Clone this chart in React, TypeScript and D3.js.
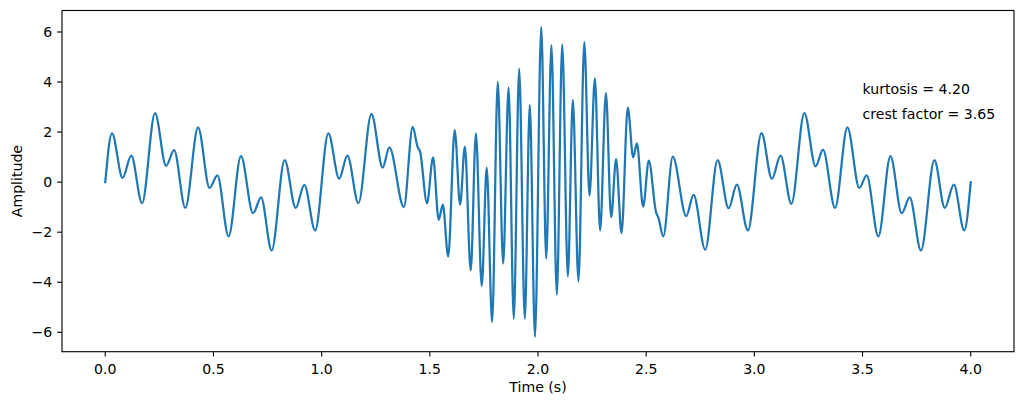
import React from "react";
import * as d3 from "d3";

// Extrema / shape points (time in s, amplitude)
const times: number[] = [
  0, 0.031, 0.080, 0.120, 0.170, 0.230, 0.281, 0.318, 0.370, 0.429, 0.482, 0.518, 0.570, 0.627,
  0.683, 0.720, 0.769, 0.829, 0.880, 0.920, 0.970, 1.031, 1.081, 1.119, 1.170, 1.230, 1.282, 1.313,
  1.380, 1.421, 1.443, 1.455, 1.487, 1.515, 1.541, 1.560, 1.585, 1.615, 1.640, 1.662, 1.689, 1.713,
  1.740, 1.763, 1.788, 1.814, 1.839, 1.864, 1.888, 1.913, 1.939, 1.962, 1.986, 2.015, 2.038, 2.062,
  2.087, 2.112, 2.138, 2.161, 2.187, 2.214, 2.238, 2.263, 2.287, 2.314, 2.338, 2.361, 2.386, 2.415,
  2.440, 2.457, 2.486, 2.512, 2.545, 2.557, 2.579, 2.623, 2.685, 2.719, 2.773, 2.830, 2.881, 2.919,
  2.970, 3.033, 3.081, 3.121, 3.171, 3.231, 3.283, 3.317, 3.373, 3.430, 3.485, 3.519, 3.573, 3.629,
  3.681, 3.718, 3.770, 3.832, 3.880, 3.922, 3.970, 4.0,
];
const amplitudes: number[] = [
  0, 1.95, 0.17, 1.06, -0.84, 2.76, 0.65, 1.28, -1.03, 2.19, -0.23, 0.27, -2.17, 1.04,
  -1.24, -0.61, -2.73, 0.88, -1.03, -0.11, -1.93, 1.95, 0.14, 1.06, -0.84, 2.73, 0.58, 1.39,
  -1.0, 2.21, 1.42, 1.22, -0.84, 0.99, -1.51, -0.90, -2.97, 2.08, -0.90, 1.42, -3.53, 1.95,
  -4.15, 0.58, -5.59, 4.01, -3.26, 3.78, -5.46, 4.54, -5.46, 3.09, -6.18, 6.2, -3.06, 5.48,
  -4.5, 5.51, -3.77, 3.29, -3.97, 5.6, -0.54, 4.15, -1.93, 3.56, -1.40, 0.92, -2.04, 2.98,
  0.99, 1.55, -0.98, 0.86, -1.18, -1.44, -2.17, 1.02, -1.36, -0.51, -2.70, 0.88, -1.04, -0.10,
  -1.93, 1.96, 0.13, 1.06, -0.87, 2.76, 0.63, 1.30, -1.03, 2.19, -0.23, 0.27, -2.17, 1.04,
  -1.24, -0.61, -2.73, 0.88, -1.03, -0.10, -1.93, 0,
];
const xTicks: number[] = [0, 0.5, 1, 1.5, 2, 2.5, 3, 3.5, 4];
const yTicks: number[] = [-6, -4, -2, 0, 2, 4, 6];
const annotations: string[] = ["kurtosis = 4.20", "crest factor = 3.65"];
const annotationX = 3.5;

const W = 1024;
const H = 407;
const L = 62;
const R = 1014;
const T = 10.5;
const B = 351.7;
const FONT = "'DejaVu Sans', sans-serif";
const FS = 14.1;

export default function App() {
  const x = d3.scaleLinear().domain([-0.2, 4.2]).range([L, R]);
  const y = d3.scaleLinear().domain([-6.775, 6.859]).range([B, T]);
  const pts = times.map((t, i) => [t, amplitudes[i]] as [number, number]);
  const line = d3
    .line<[number, number]>()
    .x((d) => x(d[0]))
    .y((d) => y(d[1]))
    .curve(d3.curveMonotoneX);
  const fmtY = (v: number) => (v < 0 ? "\u2212" + Math.abs(v) : String(v));
  return (
    <svg
      width={W}
      height={H}
      style={{ position: "absolute", left: 0, top: 0, background: "#fff" }}
      fontFamily={FONT}
    >
      <rect x={0} y={0} width={W} height={H} fill="#fff" />
      <defs>
        <clipPath id="plotclip">
          <rect x={L} y={T} width={R - L} height={B - T} />
        </clipPath>
      </defs>
      <path
        d={line(pts) || ""}
        fill="none"
        stroke="#1f77b4"
        strokeWidth={2.25}
        strokeLinejoin="round"
        strokeLinecap="square"
        clipPath="url(#plotclip)"
      />
      {annotations.map((s, i) => (
        <text key={s} x={x(annotationX)} y={94.3 + i * 25} fontSize={FS} fill="#000">
          {s}
        </text>
      ))}
      <rect x={L} y={T} width={R - L} height={B - T} fill="none" stroke="#000" strokeWidth={1.11} />
      {xTicks.map((t) => (
        <g key={"x" + t}>
          <line x1={x(t)} x2={x(t)} y1={B} y2={B + 4.86} stroke="#000" strokeWidth={1.11} />
          <text x={x(t)} y={374} fontSize={FS} textAnchor="middle" fill="#000">
            {t.toFixed(1)}
          </text>
        </g>
      ))}
      {yTicks.map((v) => (
        <g key={"y" + v}>
          <line x1={L - 4.86} x2={L} y1={y(v)} y2={y(v)} stroke="#000" strokeWidth={1.11} />
          <text x={L - 9.7} y={y(v) + 5} fontSize={FS} textAnchor="end" fill="#000">
            {fmtY(v)}
          </text>
        </g>
      ))}
      <text x={(L + R) / 2} y={392} fontSize={FS} textAnchor="middle" fill="#000">
        Time (s)
      </text>
      <text
        transform={`translate(22,${(T + B) / 2}) rotate(-90)`}
        fontSize={FS}
        textAnchor="middle"
        fill="#000"
      >
        Amplitude
      </text>
    </svg>
  );
}
